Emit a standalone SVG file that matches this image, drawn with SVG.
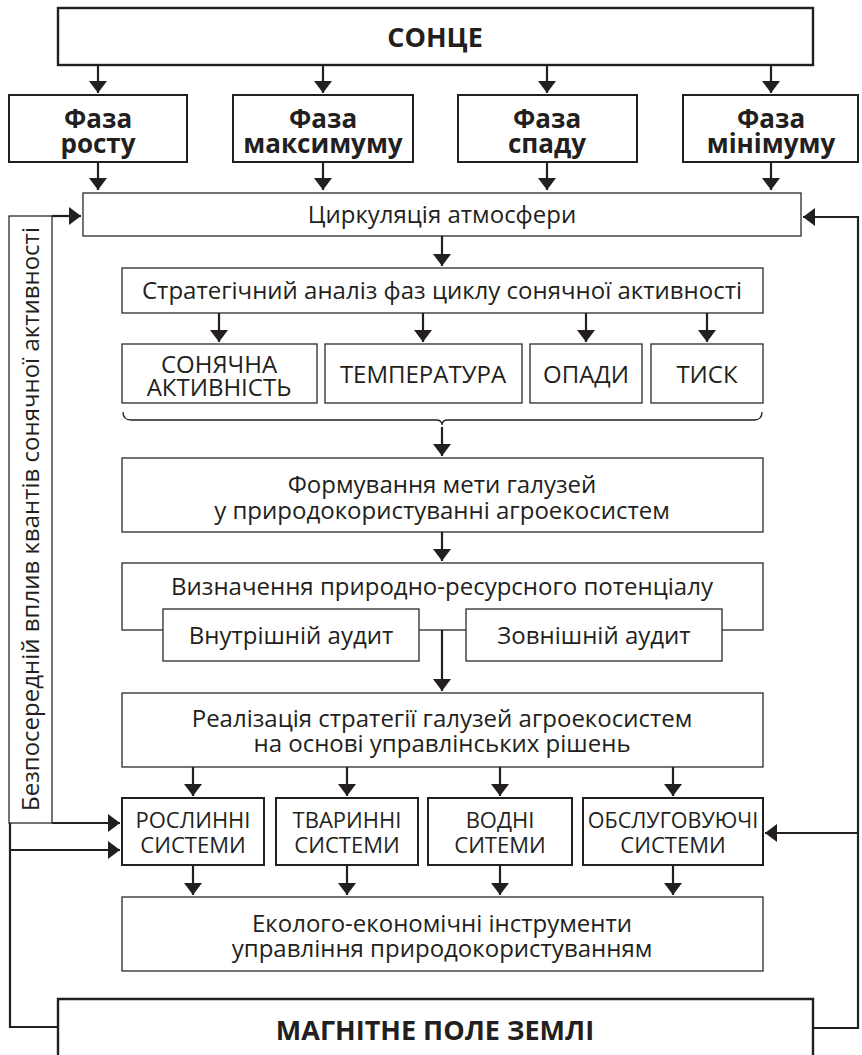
<svg xmlns="http://www.w3.org/2000/svg" width="862" height="1055" viewBox="0 0 862 1055">
<style>
.bg{fill:#ffffff}
.thin{fill:#ffffff;stroke:#2b2829;stroke-width:1.3}
.thick{fill:#ffffff;stroke:#231f20;stroke-width:2.4}
.med{fill:#ffffff;stroke:#231f20;stroke-width:2}
.t{font-family:"Open Sans","Noto Sans",sans-serif;font-size:24px;fill:#231f20;text-anchor:middle}
.s{font-family:"Open Sans","Noto Sans",sans-serif;font-size:22px;fill:#231f20;text-anchor:middle}
.b{font-family:"Open Sans","Noto Sans",sans-serif;font-weight:bold;font-size:26px;fill:#231f20;text-anchor:middle}
.bb{font-family:"Open Sans","Noto Sans",sans-serif;font-weight:bold;font-size:27px;fill:#231f20;text-anchor:middle}
.c{fill:none;stroke:#231f20;stroke-width:2.2}
</style>
<defs>
<marker id="ah" viewBox="0 0 12 18" refX="12" refY="9" markerWidth="12" markerHeight="18" markerUnits="userSpaceOnUse" orient="auto">
<path d="M0,0 L12,9 L0,18 z" fill="#231f20"/>
</marker>
</defs>
<rect class="bg" x="0" y="0" width="862" height="1055"/>

<g id="sun"><rect class="thick" x="58" y="8" width="755" height="57"/><text class="bb" x="435" y="47">СОНЦЕ</text></g>

<g id="phase1"><rect class="med" x="9" y="95" width="178" height="67"/><text class="b" x="98" y="128">Фаза</text><text class="b" x="98" y="153">росту</text></g>
<g id="phase2"><rect class="med" x="233" y="95" width="180" height="67"/><text class="b" x="323" y="128">Фаза</text><text class="b" x="323" y="153">максимуму</text></g>
<g id="phase3"><rect class="med" x="458" y="95" width="179" height="67"/><text class="b" x="547" y="128">Фаза</text><text class="b" x="547" y="153">спаду</text></g>
<g id="phase4"><rect class="med" x="683" y="95" width="175" height="67"/><text class="b" x="771" y="128">Фаза</text><text class="b" x="771" y="153">мінімуму</text></g>

<g id="circ"><rect class="thin" x="83" y="193" width="718" height="43"/><text class="t" x="442" y="223">Циркуляція атмосфери</text></g>

<g id="strategy"><rect class="thin" x="122" y="268" width="641" height="45"/><text class="t" x="442" y="299">Стратегічний аналіз фаз циклу сонячної активності</text></g>

<g id="solar"><rect class="thin" x="122" y="344" width="195" height="59"/><text class="t" x="219" y="373">СОНЯЧНА</text><text class="t" x="219" y="396">АКТИВНІСТЬ</text></g>
<g id="temp"><rect class="thin" x="325" y="344" width="197" height="59"/><text class="t" x="423" y="383">ТЕМПЕРАТУРА</text></g>
<g id="precip"><rect class="thin" x="530" y="344" width="112" height="59"/><text class="t" x="586" y="383">ОПАДИ</text></g>
<g id="pressure"><rect class="thin" x="651" y="344" width="112" height="59"/><text class="t" x="707" y="383">ТИСК</text></g>

<g id="brace"><path d="M123,412 Q123,420 131,420 L436,420 Q442,420 442,425 Q442,420 448,420 L754,420 Q762,420 762,412" fill="none" stroke="#231f20" stroke-width="1.3"/></g>

<g id="goal"><rect class="thin" x="122" y="458" width="641" height="74"/><text class="t" x="442" y="493">Формування мети галузей</text><text class="t" x="442" y="519">у природокористуванні агроекосистем</text></g>

<g id="potential"><rect class="thin" x="122" y="563" width="641" height="67"/><text class="t" x="442" y="595">Визначення природно-ресурсного потенціалу</text></g>
<g id="internal"><rect class="thin" x="163" y="609" width="256" height="52"/><text class="t" x="291" y="644">Внутрішній аудит</text></g>
<g id="external"><rect class="thin" x="466" y="609" width="256" height="52"/><text class="t" x="594" y="644">Зовнішній аудит</text></g>

<g id="realization"><rect class="thin" x="122" y="693" width="641" height="74"/><text class="t" x="442" y="727">Реалізація стратегії галузей агроекосистем</text><text class="t" x="442" y="752">на основі управлінських рішень</text></g>

<g id="plant"><rect class="med" x="122" y="798" width="142" height="67"/><text class="s" x="193" y="828">РОСЛИННІ</text><text class="s" x="193" y="853">СИСТЕМИ</text></g>
<g id="animal"><rect class="med" x="276" y="798" width="142" height="67"/><text class="s" x="347" y="828">ТВАРИННІ</text><text class="s" x="347" y="853">СИСТЕМИ</text></g>
<g id="water"><rect class="med" x="428" y="798" width="144" height="67"/><text class="s" x="500" y="828">ВОДНІ</text><text class="s" x="500" y="853">СИТЕМИ</text></g>
<g id="service"><rect class="med" x="583" y="798" width="180" height="67"/><text class="s" x="673" y="828" style="font-size:21.5px">ОБСЛУГОВУЮЧІ</text><text class="s" x="673" y="853">СИСТЕМИ</text></g>

<g id="tools"><rect class="thin" x="122" y="897" width="641" height="74"/><text class="t" x="442" y="932">Еколого-економічні інструменти</text><text class="t" x="442" y="957">управління природокористуванням</text></g>

<g id="magnetic"><path d="M58,1055 V999 H813 V1055" class="thick"/><text class="bb" x="435" y="1040">МАГНІТНЕ ПОЛЕ ЗЕМЛІ</text></g>

<g id="quanta"><rect class="thin" x="9" y="216" width="43" height="607"/><text class="t" transform="translate(39,519) rotate(-90)" x="0" y="0">Безпосередній вплив квантів сонячної активності</text></g>

<g id="connectors">
<path class="c" marker-end="url(#ah)" d="M98,65 V93"/>
<path class="c" marker-end="url(#ah)" d="M323,65 V93"/>
<path class="c" marker-end="url(#ah)" d="M547,65 V93"/>
<path class="c" marker-end="url(#ah)" d="M771,65 V93"/>
<path class="c" marker-end="url(#ah)" d="M98,162 V190"/>
<path class="c" marker-end="url(#ah)" d="M323,162 V190"/>
<path class="c" marker-end="url(#ah)" d="M547,162 V190"/>
<path class="c" marker-end="url(#ah)" d="M771,162 V190"/>
<path class="c" marker-end="url(#ah)" d="M442,236 V266"/>
<path class="c" marker-end="url(#ah)" d="M219,313 V342"/>
<path class="c" marker-end="url(#ah)" d="M423,313 V342"/>
<path class="c" marker-end="url(#ah)" d="M586,313 V342"/>
<path class="c" marker-end="url(#ah)" d="M707,313 V342"/>
<path class="c" marker-end="url(#ah)" d="M442,427 V456"/>
<path class="c" marker-end="url(#ah)" d="M442,532 V561"/>
<path class="c" marker-end="url(#ah)" d="M442,630 V691"/>
<path class="c" marker-end="url(#ah)" d="M193,767 V796"/>
<path class="c" marker-end="url(#ah)" d="M347,767 V796"/>
<path class="c" marker-end="url(#ah)" d="M500,767 V796"/>
<path class="c" marker-end="url(#ah)" d="M673,767 V796"/>
<path class="c" marker-end="url(#ah)" d="M193,865 V895"/>
<path class="c" marker-end="url(#ah)" d="M347,865 V895"/>
<path class="c" marker-end="url(#ah)" d="M500,865 V895"/>
<path class="c" marker-end="url(#ah)" d="M673,865 V895"/>
<path class="c" marker-end="url(#ah)" d="M52,216 H81"/>
<path class="c" marker-end="url(#ah)" d="M52,823 H120"/>
<path class="c" d="M10,823 V1027 H58"/>
<path class="c" marker-end="url(#ah)" d="M10,850 H120"/>
<path class="c" marker-end="url(#ah)" d="M813,1028 H858 V217 H803"/>
<path class="c" marker-end="url(#ah)" d="M858,833 H765"/>
</g>
</svg>
